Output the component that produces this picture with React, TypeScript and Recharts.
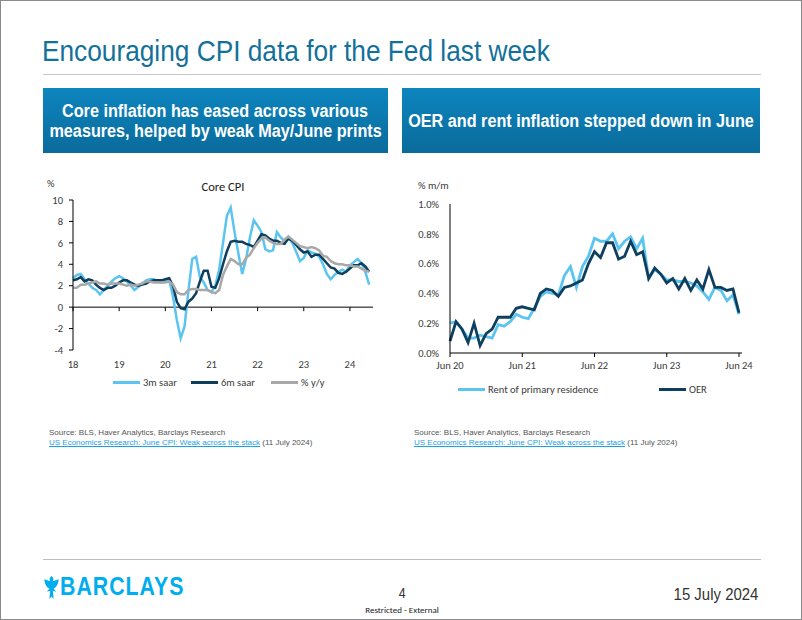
import React from 'react';
import { LineChart, Line, XAxis, YAxis, ReferenceLine } from 'recharts';

// Core CPI, monthly Jan 18 .. Jun 24 (% saar / % y/y)
const cpiYears = ['18', '19', '20', '21', '22', '23', '24'];
const core3m = [
  2.7, 3.0, 3.1, 2.6, 2.2, 1.8, 1.6, 1.2, 1.6, 2.0, 2.4, 2.7,
  2.9, 2.7, 2.4, 2.0, 1.6, 1.9, 2.2, 2.5, 2.6, 2.6, 2.4, 2.3,
  2.5, 2.6, 1.0, -1.2, -2.9, -1.8, 1.5, 4.5, 4.7, 2.8, 2.3, 1.6,
  1.4, 2.0, 3.5, 6.0, 8.5, 9.3, 7.0, 5.0, 3.1, 4.5, 6.5, 8.1,
  7.6, 7.0, 5.4, 5.2, 5.3, 7.0, 6.5, 6.2, 6.5, 6.0, 5.2, 4.3,
  4.6, 5.3, 5.1, 5.0, 4.7, 4.0, 3.1, 2.6, 3.0, 3.3, 3.5, 3.3,
  3.9, 4.2, 4.5, 4.1, 3.3, 2.1,
];
const core6m = [
  2.5, 2.6, 2.8, 2.4, 2.6, 2.5, 2.1, 1.8, 1.6, 1.8, 1.8, 2.0,
  2.3, 2.5, 2.5, 2.3, 2.1, 2.0, 2.1, 2.2, 2.4, 2.5, 2.5, 2.5,
  2.6, 2.7, 2.0, 0.5, -0.1, -0.2, 0.5, 0.8, 1.3, 2.4, 3.4, 3.4,
  1.9, 1.8, 2.7, 4.0, 5.2, 6.1, 6.2, 6.1, 6.1, 5.9, 5.8, 5.6,
  6.2, 6.8, 6.7, 6.4, 6.2, 6.2, 6.0, 5.9, 6.4, 6.2, 5.8, 5.4,
  5.1, 5.2, 4.7, 4.9, 4.9, 4.5, 4.1, 3.7, 3.6, 3.2, 3.1, 3.3,
  3.6, 3.9, 3.9, 4.1, 3.8, 3.3,
];
const coreYoy = [
  1.8, 1.8, 2.1, 2.1, 2.2, 2.3, 2.4, 2.2, 2.2, 2.1, 2.2, 2.2,
  2.2, 2.1, 2.0, 2.1, 2.0, 2.1, 2.2, 2.4, 2.4, 2.3, 2.3, 2.3,
  2.3, 2.4, 2.1, 1.4, 1.2, 1.2, 1.6, 1.7, 1.7, 1.6, 1.6, 1.6,
  1.4, 1.3, 1.6, 3.0, 3.8, 4.5, 4.3, 4.0, 4.0, 4.6, 4.9, 5.5,
  6.0, 6.4, 6.5, 6.2, 6.0, 5.9, 5.9, 6.3, 6.6, 6.3, 6.0, 5.7,
  5.6, 5.5, 5.6, 5.5, 5.3, 4.8, 4.7, 4.3, 4.1, 4.0, 4.0, 3.9,
  3.9, 3.8, 3.8, 3.6, 3.4, 3.3,
];
const cpiTicks = [-4, -2, 0, 2, 4, 6, 8, 10];

// Rent / OER, % m/m, Jun 20 .. Jun 24
const shelterTickLabels = ['Jun 20', 'Jun 21', 'Jun 22', 'Jun 23', 'Jun 24'];
const rent = [
  0.20, 0.21, 0.16, 0.10, 0.10, 0.12, 0.11, 0.10, 0.19, 0.18, 0.21, 0.26,
  0.24, 0.23, 0.30, 0.38, 0.41, 0.40, 0.39, 0.52, 0.58, 0.44, 0.58, 0.65,
  0.77, 0.75, 0.75, 0.80, 0.70, 0.75, 0.78, 0.70, 0.77, 0.50, 0.56, 0.53,
  0.49, 0.49, 0.48, 0.48, 0.47, 0.45, 0.41, 0.36, 0.44, 0.42, 0.35, 0.39,
  0.26,
];
const oer = [
  0.08, 0.21, 0.16, 0.07, 0.20, 0.05, 0.13, 0.16, 0.24, 0.24, 0.24, 0.30,
  0.31, 0.30, 0.29, 0.40, 0.43, 0.42, 0.38, 0.44, 0.45, 0.47, 0.49, 0.60,
  0.68, 0.64, 0.74, 0.74, 0.63, 0.65, 0.75, 0.66, 0.68, 0.50, 0.57, 0.53,
  0.47, 0.50, 0.43, 0.50, 0.42, 0.49, 0.43, 0.56, 0.44, 0.44, 0.42, 0.43,
  0.27,
];
const shelterTicks = [0, 0.2, 0.4, 0.6, 0.8, 1.0];

const cpiData = core3m.map((v, i) => ({ i, m3: v, m6: core6m[i], yoy: coreYoy[i] }));
const shelterData = rent.map((v, i) => ({ i, rent: v, oer: oer[i] }));

const LIGHT = '#5cc4f0';
const NAVY = '#0f3f5f';
const GREY = '#a8a8a8';
const ARIAL = "'Liberation Sans', Arial, sans-serif";
const CHART_FONT = "Carlito, Lato, 'Open Sans', sans-serif";
const TICK = { fontSize: 10.5, fill: '#3a3a3a', fontFamily: CHART_FONT };

const LEFT_PLOT_H = 150;

// Arial Narrow stand-in: Liberation Sans squeezed horizontally
const Narrow = ({ children, origin = 'left', scale = 0.82, style }: { children: React.ReactNode; origin?: string; scale?: number; style?: React.CSSProperties }) => (
  <span style={{ display: 'inline-block', whiteSpace: 'nowrap', fontFamily: ARIAL, transform: `scaleX(${scale})`, transformOrigin: origin, ...style }}>
    {children}
  </span>
);

const CpiTick = (props: any) => {
  const { x, y, payload } = props;
  const zeroY = y - (LEFT_PLOT_H * 4) / 14;
  return (
    <g>
      <line x1={x} x2={x} y1={zeroY} y2={zeroY + 4} stroke="#000" />
      <text x={x} y={y + 18} textAnchor="middle" {...TICK}>
        {cpiYears[Math.round(payload.value / 12)]}
      </text>
    </g>
  );
};

const LegendItem = ({ x, y, color, label }: { x: number; y: number; color: string; label: string }) => (
  <div style={{ position: 'absolute', left: x, top: y - 7, height: 14, display: 'flex', alignItems: 'center' }}>
    <div style={{ width: 27, height: 3, background: color, marginRight: 3 }} />
    <span style={{ fontFamily: CHART_FONT, fontSize: 10.5, color: '#3a3a3a', whiteSpace: 'nowrap' }}>{label}</span>
  </div>
);

const Banner = ({ left, width, lines }: { left: number; width: number; lines: string[] }) => (
  <div
    style={{
      position: 'absolute', left, top: 87, width, height: 65,
      background: 'linear-gradient(#0d85bf, #0a6b9b)',
      display: 'flex', flexDirection: 'column', justifyContent: 'center', alignItems: 'center',
      color: '#fff', fontWeight: 'bold', fontSize: 18, lineHeight: '20px',
    }}
  >
    {lines.map((l) => (
      <div key={l} style={{ height: 20 }}>
        <Narrow origin="center" scale={0.9}>{l}</Narrow>
      </div>
    ))}
  </div>
);

const Source = ({ left }: { left: number }) => (
  <div style={{ position: 'absolute', left, top: 427, fontFamily: ARIAL, fontSize: 8, color: '#555', lineHeight: '9.5px', whiteSpace: 'nowrap' }}>
    <div>Source: BLS, Haver Analytics, Barclays Research</div>
    <div>
      <span style={{ color: '#1aa3e0', textDecoration: 'underline' }}>US Economics Research: June CPI: Weak across the stack</span>
      {' (11 July 2024)'}
    </div>
  </div>
);

export default function App() {
  return (
    <div style={{ position: 'absolute', left: 0, top: 0, width: 802, height: 620, background: '#fff', border: '1px solid #8a8a8a', boxSizing: 'border-box', overflow: 'hidden' }}>
      <div style={{ position: 'absolute', left: 41, top: 33, fontSize: 30, color: '#12709a' }}>
        <Narrow scale={0.875}>Encouraging CPI data for the Fed last week</Narrow>
      </div>
      <div style={{ position: 'absolute', left: 42, top: 73, width: 718, height: 1, background: '#c8c8c8' }} />

      <Banner left={42} width={345} lines={['Core inflation has eased across various', 'measures, helped by weak May/June prints']} />
      <Banner left={401} width={358} lines={['OER and rent inflation stepped down in June']} />

      {/* Left chart: Core CPI */}
      <div style={{ position: 'absolute', left: 46, top: 176, fontFamily: CHART_FONT, fontSize: 10.5, color: '#3a3a3a' }}>%</div>
      <div style={{ position: 'absolute', left: 72, width: 300, top: 178, textAlign: 'center', fontFamily: CHART_FONT, fontSize: 12.5, color: '#222' }}>Core CPI</div>
      <div style={{ position: 'absolute', left: 40, top: 190 }}>
        <LineChart width={340} height={180} data={cpiData} margin={{ top: 9, right: 8, left: 0, bottom: 1 }}>
          <XAxis
            dataKey="i" type="number" domain={[0, 78]} ticks={[0, 12, 24, 36, 48, 60, 72]}
            axisLine={false} tickLine={false} tickSize={0} tickMargin={0} height={20}
            tick={<CpiTick />} interval={0}
          />
          <YAxis
            domain={[-4, 10]} ticks={cpiTicks} width={32} interval={0}
            axisLine={{ stroke: '#000' }} tickLine={{ stroke: '#000' }} tickSize={4} tickMargin={6}
            tick={TICK}
          />
          <ReferenceLine y={0} stroke="#000" />
          <Line dataKey="m3" stroke={LIGHT} strokeWidth={2.5} dot={false} isAnimationActive={false} />
          <Line dataKey="m6" stroke={NAVY} strokeWidth={2.5} dot={false} isAnimationActive={false} />
          <Line dataKey="yoy" stroke={GREY} strokeWidth={2.5} dot={false} isAnimationActive={false} />
        </LineChart>
      </div>
      <LegendItem x={112} y={381} color={LIGHT} label="3m saar" />
      <LegendItem x={190} y={381} color={NAVY} label="6m saar" />
      <LegendItem x={270} y={381} color={GREY} label="% y/y" />

      {/* Right chart: OER and rent */}
      <div style={{ position: 'absolute', left: 417, top: 178, fontFamily: CHART_FONT, fontSize: 10.5, color: '#3a3a3a' }}>% m/m</div>
      <div style={{ position: 'absolute', left: 405, top: 190 }}>
        <LineChart width={356} height={186} data={shelterData} margin={{ top: 13, right: 20, left: 0, bottom: 0 }}>
          <XAxis
            dataKey="i" type="number" domain={[0, 48.5]} ticks={[0, 12, 24, 36, 48]} interval={0}
            tickFormatter={(v: number) => shelterTickLabels[Math.round(v / 12)]}
            axisLine={{ stroke: '#000' }} tickLine={{ stroke: '#000' }} tickSize={4} tickMargin={5} height={24}
            tick={TICK}
          />
          <YAxis
            domain={[0, 1]} ticks={shelterTicks} width={44} interval={0}
            tickFormatter={(v: number) => `${v.toFixed(1)}%`}
            axisLine={{ stroke: '#000' }} tickLine={false} tickSize={3} tickMargin={8}
            tick={TICK}
          />
          <Line dataKey="rent" stroke={LIGHT} strokeWidth={2.8} dot={false} isAnimationActive={false} />
          <Line dataKey="oer" stroke={NAVY} strokeWidth={2.8} dot={false} isAnimationActive={false} />
        </LineChart>
      </div>
      <LegendItem x={457} y={388} color={LIGHT} label="Rent of primary residence" />
      <LegendItem x={658} y={388} color={NAVY} label="OER" />

      <Source left={48} />
      <Source left={413} />

      {/* Footer */}
      <div style={{ position: 'absolute', left: 42, top: 558, width: 718, height: 1, background: '#bdbdbd' }} />
      <svg style={{ position: 'absolute', left: 43, top: 575 }} width={15} height={23} viewBox="0 0 14 22">
        <path
          d="M7 0 C9 1.5 9.2 3.5 8.2 5 L14 3 C13.4 8 11.5 11 9 12 L11.5 15 L8.3 14.2 L9 22 L7 19.5 L5 22 L5.7 14.2 L2.5 15 L5 12 C2.5 11 0.6 8 0 3 L5.8 5 C4.8 3.5 5 1.5 7 0 Z"
          fill="#00aeef"
        />
      </svg>
      <div style={{ position: 'absolute', left: 59, top: 570, fontWeight: 'bold', fontSize: 26, color: '#00aeef' }}>
        <Narrow style={{ letterSpacing: 1.2 }}>BARCLAYS</Narrow>
      </div>
      <div style={{ position: 'absolute', left: 391, width: 20, top: 583, textAlign: 'center', fontSize: 15, color: '#333' }}>
        <Narrow origin="center">4</Narrow>
      </div>
      <div style={{ position: 'absolute', left: 331, width: 140, top: 603, textAlign: 'center', fontFamily: CHART_FONT, fontSize: 9, color: '#222' }}>Restricted - External</div>
      <div style={{ position: 'absolute', right: 43, top: 584, fontSize: 17, color: '#333' }}>
        <Narrow origin="right" scale={0.88}>15 July 2024</Narrow>
      </div>
    </div>
  );
}
